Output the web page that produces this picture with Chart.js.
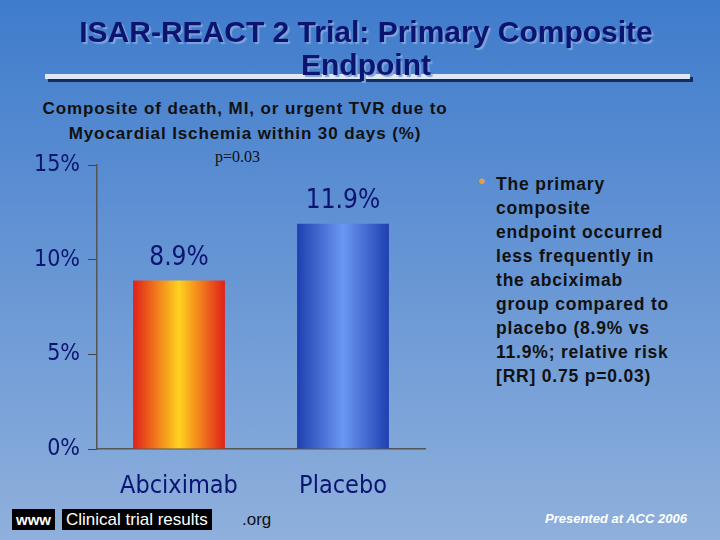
<!DOCTYPE html>
<html><head><meta charset="utf-8">
<script src="https://cdn.jsdelivr.net/npm/chart.js@4"></script>
<style>
body{margin:0;width:720px;height:540px;overflow:hidden;font-family:'Liberation Sans',Arial,sans-serif;
background:linear-gradient(#3f7ccc,#6f9bd6 60%,#8fb0dc);position:relative}
.abs{position:absolute}
#title{left:0;width:732px;top:15px;text-align:center;font-weight:bold;font-size:30px;line-height:33px;color:#0b1470;text-shadow:2px 2px 1px #7fa3d8;z-index:2}
#bar{left:45px;top:74px;width:645px;height:5px;background:#dfe8f5;box-shadow:3px 3px 0 #1a2a5a;z-index:1}
#sub{left:20px;width:450px;top:96px;text-align:center;font-weight:bold;font-size:17px;letter-spacing:0.9px;line-height:25px;color:#111}
#p{left:215px;top:148px;font-family:'Liberation Serif',serif;font-size:16px;color:#111}
#bul{left:496px;top:172px;font-weight:bold;font-size:17.5px;letter-spacing:0.8px;line-height:24px;color:#111}
#dot{left:478px;top:170px;font-size:20px;color:#e8a030}
#www{left:12px;top:509px;background:#000;color:#fff;font-weight:bold;font-size:15px;padding:0 4px;line-height:21px}
#ctr{left:62px;top:509px;background:#000;color:#fff;font-size:17px;padding:0 4px;line-height:21px}
#org{left:242px;top:509px;color:#111;font-size:17px;line-height:21px}
#acc{left:545px;top:511px;color:#fff;font-style:italic;font-weight:bold;font-size:13px}
</style></head><body>
<div id="title" class="abs">ISAR-REACT 2 Trial: Primary Composite<br>Endpoint</div>
<div id="bar" class="abs"></div>
<div id="sub" class="abs">Composite of death, MI, or urgent TVR due to<br>Myocardial Ischemia within 30 days (%)</div>
<div id="p" class="abs">p=0.03</div>
<div id="dot" class="abs">•</div>
<div id="bul" class="abs">The primary<br>composite<br>endpoint occurred<br>less frequently in<br>the abciximab<br>group compared to<br>placebo (8.9% vs<br>11.9%; relative risk<br>[RR] 0.75 p=0.03)</div>
<div id="www" class="abs">www</div>
<div id="ctr" class="abs">Clinical trial results</div>
<div id="org" class="abs">.org</div>
<div id="acc" class="abs">Presented at ACC 2006</div>
<canvas id="c" width="720" height="540" class="abs" style="left:0;top:0"></canvas>
<script>
const categories = ['Abciximab', 'Placebo'];
const values = [8.9, 11.9];
const yTicks = [0, 5, 10, 15];
const narrow = "'Liberation Sans Narrow','DejaVu Sans Condensed',sans-serif";

function barFill(ctx) {
    const chart = ctx.chart;
    const xs = chart.scales && chart.scales.x;
    if (!xs || !chart.chartArea) return ctx.dataIndex === 0 ? '#f06020' : '#3a62d0';
    const cx = xs.getPixelForValue(ctx.dataIndex);
    const w = 46;
    const g = chart.ctx.createLinearGradient(cx - w, 0, cx + w, 0);
    if (ctx.dataIndex === 0) {
        g.addColorStop(0, '#e0201a'); g.addColorStop(0.5, '#ffd21e'); g.addColorStop(1, '#e0201a');
    } else {
        g.addColorStop(0, '#1f3fb0'); g.addColorStop(0.5, '#6a98f2'); g.addColorStop(1, '#1f3fb0');
    }
    return g;
}

const labelPlugin = {
    id: 'labels',
    afterDatasetsDraw(chart) {
        const c = chart.ctx;
        c.save();
        c.font = '26px ' + narrow;
        c.fillStyle = '#0b1470';
        c.textAlign = 'center';
        c.textBaseline = 'middle';
        chart.getDatasetMeta(0).data.forEach((b, i) => {
            c.fillText(values[i].toFixed(1) + '%', b.x, b.y - 22);
        });
        c.restore();
    }
};

new Chart(document.getElementById('c'), {
    type: 'bar',
    data: {
        labels: categories,
        datasets: [{ data: values, backgroundColor: barFill, barPercentage: 0.56, categoryPercentage: 1 }]
    },
    options: {
        responsive: false,
        animation: false,
        layout: { padding: { left: 0, top: 165, right: 295, bottom: 0 } },
        plugins: { legend: { display: false }, tooltip: { enabled: false } },
        scales: {
            x: {
                afterFit(s) { s.height = 91; },
                grid: { display: false },
                border: { color: '#555', width: 1.5 },
                ticks: { color: '#0b1470', font: { family: narrow, size: 25 }, padding: 14 }
            },
            y: {
                min: 0, max: 15,
                afterFit(s) { s.width = 97; },
                afterBuildTicks(s) { s.ticks = yTicks.map(v => ({ value: v })); },
                grid: { drawOnChartArea: false, tickLength: 9, color: '#444' },
                border: { color: '#555', width: 1.5 },
                ticks: { color: '#0b1470', font: { family: narrow, size: 23 }, padding: 8, callback: v => v + '%' }
            }
        }
    },
    plugins: [labelPlugin]
});
</script>
</body></html>
